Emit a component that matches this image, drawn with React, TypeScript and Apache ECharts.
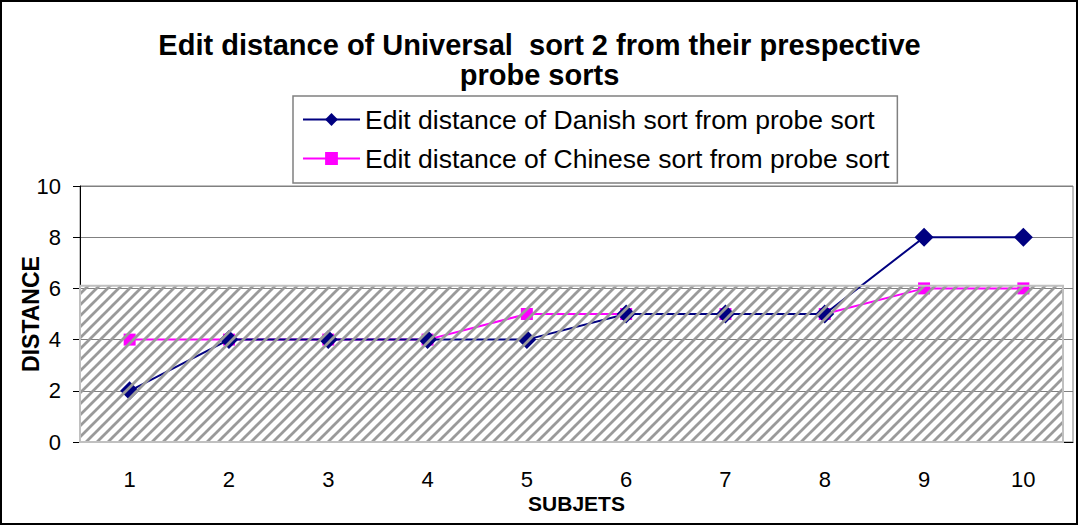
import React, { useEffect, useRef } from "react";
import * as echarts from "echarts";

const categories = ["1", "2", "3", "4", "5", "6", "7", "8", "9", "10"];
const danish = [2, 4, 4, 4, 4, 5, 5, 5, 8, 8];
const chinese = [4, 4, 4, 4, 5, 5, 5, 5, 6, 6];
const hatchTop = 6.1;
const seriesNames = [
  "Edit distance of Danish sort from probe sort",
  "Edit distance of Chinese sort from probe sort",
];
const titleText = "Edit distance of Universal  sort 2 from their prespective\nprobe sorts";

function makeHatch() {
  const c = document.createElement("canvas");
  c.width = 11;
  c.height = 11;
  const ctx = c.getContext("2d")!;
  ctx.strokeStyle = "#9a9a9a";
  ctx.lineWidth = 2.8;
  ctx.beginPath();
  ctx.moveTo(-5.5, 5.5);
  ctx.lineTo(5.5, -5.5);
  ctx.moveTo(0, 11);
  ctx.lineTo(11, 0);
  ctx.moveTo(5.5, 16.5);
  ctx.lineTo(16.5, 5.5);
  ctx.stroke();
  return c;
}

export default function App() {
  const ref = useRef<HTMLDivElement>(null);
  useEffect(() => {
    const chart = echarts.init(ref.current!, null, { renderer: "svg" });
    const hatch = makeHatch();
    const font = "Liberation Sans, Arial, sans-serif";
    chart.setOption({
      animation: false,
      backgroundColor: "#ffffff",
      textStyle: { fontFamily: font },
      title: {
        text: titleText,
        left: "center",
        top: 25,
        textStyle: { fontSize: 29, fontWeight: "bold", color: "#000", lineHeight: 30, fontFamily: font },
      },
      legend: {
        left: 293,
        top: 96,
        orient: "vertical",
        backgroundColor: "#fff",
        borderColor: "#808080",
        borderWidth: 1.5,
        padding: [10, 8, 11, 9],
        itemWidth: 57,
        itemHeight: 16,
        itemGap: 12,
        textStyle: { fontSize: 26.5, color: "#000", fontFamily: font },
        data: seriesNames,
      },
      grid: {
        left: 80,
        right: 6,
        top: 186,
        bottom: 84,
        show: true,
        borderColor: "#808080",
        borderWidth: 1,
        containLabel: false,
        outerBoundsMode: "none",
      },
      xAxis: {
        type: "category",
        data: categories,
        boundaryGap: true,
        name: "SUBJETS",
        nameLocation: "middle",
        nameGap: 51,
        nameMoveOverlap: false,
        nameTextStyle: { fontSize: 21, fontWeight: "bold", color: "#000", lineHeight: 20 },
        axisLine: { lineStyle: { color: "#000", width: 1 } },
        axisTick: { length: 6, lineStyle: { color: "#000" } },
        axisLabel: { fontSize: 22, color: "#000", margin: 27, lineHeight: 20 },
      },
      yAxis: {
        type: "value",
        min: 0,
        max: 10,
        interval: 2,
        name: "DISTANCE",
        nameLocation: "middle",
        nameRotate: 90,
        nameGap: 38,
        nameMoveOverlap: false,
        nameTextStyle: { fontSize: 23, fontWeight: "bold", color: "#000" },
        axisLine: { show: true, lineStyle: { color: "#000", width: 1 } },
        axisTick: { show: true, length: 7, lineStyle: { color: "#000" } },
        axisLabel: { fontSize: 22, color: "#000", margin: 19 },
        splitLine: { lineStyle: { color: "#808080", width: 1 } },
      },
      series: [
        {
          name: seriesNames[0],
          type: "line",
          data: danish,
          symbol: "diamond",
          symbolSize: 19,
          color: "#000080",
          lineStyle: { width: 2, color: "#000080" },
          itemStyle: { color: "#000080" },
          z: 3,
        },
        {
          name: seriesNames[1],
          type: "line",
          data: chinese,
          symbol: "rect",
          symbolSize: 12,
          color: "#ff00ff",
          lineStyle: { width: 2, color: "#ff00ff" },
          itemStyle: { color: "#ff00ff" },
          z: 2,
        },
        {
          type: "custom",
          silent: true,
          z: 10,
          data: [[0, hatchTop]],
          renderItem: (params: any, api: any) => {
            const cs = params.coordSys;
            const top = api.coord([0, api.value(1)])[1];
            const bottom = cs.y + cs.height;
            return {
              type: "rect",
              shape: { x: cs.x, y: top, width: cs.width - 10, height: bottom - top },
              style: {
                fill: { image: hatch, repeat: "repeat" },
                stroke: "#c0c0c0",
                lineWidth: 2,
              },
            };
          },
        },
      ],
      graphic: [
        {
          type: "rect",
          shape: { x: 1, y: 1, width: 1076, height: 523 },
          style: { fill: "none", stroke: "#000", lineWidth: 2 },
          z: 100,
          silent: true,
        },
      ],
    });
    return () => chart.dispose();
  }, []);
  return (
    <div
      ref={ref}
      style={{ position: "absolute", left: 0, top: 0, width: 1079, height: 526 }}
    />
  );
}
